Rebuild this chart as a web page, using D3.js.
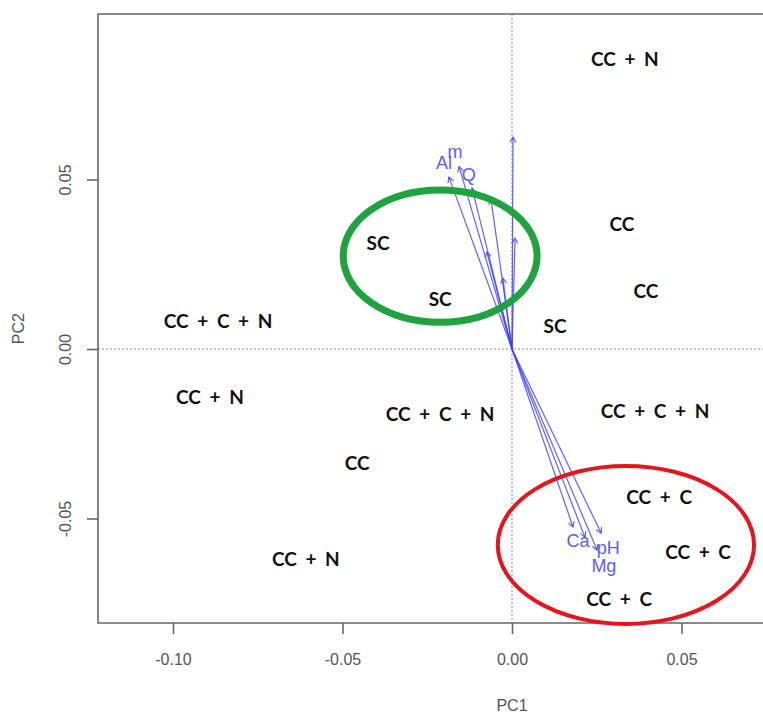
<!DOCTYPE html>
<html>
<head>
<meta charset="utf-8">
<script src="https://cdn.jsdelivr.net/npm/d3@7"></script>
<style>
  html, body { margin: 0; padding: 0; background: #fff; }
  svg { display: block; }
</style>
</head>
<body>
<svg id="chart" width="763" height="716"></svg>
<script>
// Treatment scores on the first two principal components
const sampleLabels = ["CC + N", "CC", "CC", "SC", "SC", "SC", "CC + C + N", "CC + N",
  "CC + C + N", "CC + C + N", "CC", "CC + C", "CC + C", "CC + N", "CC + C"];
const samplePC1 = [0.0333, 0.0324, 0.0395, -0.0395, -0.0212, 0.0127, -0.0867, -0.0891,
  -0.0212, 0.0422, -0.0457, 0.0434, 0.0549, -0.0608, 0.0316];
const samplePC2 = [0.0858, 0.0369, 0.0174, 0.0313, 0.0150, 0.0068, 0.0083, -0.0139,
  -0.0189, -0.0180, -0.0336, -0.0434, -0.0596, -0.0619, -0.0735];

// Soil variable loadings (arrow tips); some labels are blank
const varLabels = ["Al", "m", "Q", "", "", "", "", "", "Ca", "", "pH", "Mg"];
const varPC1 = [-0.0186, -0.0156, -0.0118, -0.0062, -0.0074, 0.0009, -0.0027, 0.0003,
  0.0180, 0.0215, 0.0263, 0.0251];
const varPC2 = [0.0507, 0.0538, 0.0475, 0.0442, 0.0286, 0.0327, 0.0209, 0.0625,
  -0.0525, -0.0555, -0.0543, -0.0593];

// Group outlines: centre and radii in PC units
const groupColors = ["#1fa33f", "#e8141b"];
const groupCX = [-0.0212, 0.0336];
const groupCY = [0.0274, -0.0578];
const groupRX = [0.0286, 0.0378];
const groupRY = [0.0195, 0.0233];
const groupWidths = [7, 4];

const xTicks = [-0.10, -0.05, 0.00, 0.05];
const yTicks = [-0.05, 0.00, 0.05];

const svg = d3.select("#chart");
const W = 763, H = 716;
const plotLeft = 98, plotTop = 14, plotBottom = 623;
const unit = 3390; // pixels per PC unit
const x0 = 512, y0 = 349;

const x = d3.scaleLinear()
  .domain([(plotLeft - x0) / unit, (W + 40 - x0) / unit])
  .range([plotLeft, W + 40]);
const y = d3.scaleLinear()
  .domain([(y0 - plotBottom) / unit, (y0 - plotTop) / unit])
  .range([plotBottom, plotTop]);

const axisColor = "#666";
const tickTextColor = "#555";
const fmt = d => d.toFixed(2); // plain hyphen for negatives

// zero reference lines
svg.append("line")
  .attr("x1", x(0)).attr("x2", x(0))
  .attr("y1", plotTop).attr("y2", plotBottom)
  .attr("stroke", "#888").attr("stroke-width", 1)
  .attr("stroke-dasharray", "2,2");
svg.append("line")
  .attr("x1", plotLeft).attr("x2", W)
  .attr("y1", y(0)).attr("y2", y(0))
  .attr("stroke", "#888").attr("stroke-width", 1)
  .attr("stroke-dasharray", "2,2");

// frame
svg.append("path")
  .attr("d", `M${W},${plotTop}H${plotLeft}V${plotBottom}H${W}`)
  .attr("fill", "none").attr("stroke", axisColor).attr("stroke-width", 1.6);

// x axis
const xAxis = d3.axisBottom(x).tickValues(xTicks)
  .tickFormat(fmt).tickSize(11).tickPadding(20);
const gx = svg.append("g").attr("transform", `translate(0,${plotBottom})`).call(xAxis);
gx.select(".domain").remove();
gx.selectAll(".tick line").attr("stroke", axisColor).attr("stroke-width", 1.6);
gx.selectAll(".tick text")
  .attr("fill", tickTextColor)
  .style("font-family", "'Liberation Sans', Arial, sans-serif")
  .style("font-size", "16px");

// y axis with rotated labels
const yAxis = d3.axisLeft(y).tickValues(yTicks)
  .tickFormat(fmt).tickSize(11).tickPadding(0);
const gy = svg.append("g").attr("transform", `translate(${plotLeft},0)`).call(yAxis);
gy.select(".domain").remove();
gy.selectAll(".tick line").attr("stroke", axisColor).attr("stroke-width", 1.6);
gy.selectAll(".tick text")
  .attr("fill", tickTextColor)
  .attr("x", null).attr("dy", null)
  .attr("text-anchor", "middle")
  .attr("transform", "translate(-27,0) rotate(-90)")
  .style("font-family", "'Liberation Sans', Arial, sans-serif")
  .style("font-size", "16px");

// axis titles
svg.append("text")
  .attr("x", x(0)).attr("y", 711)
  .attr("text-anchor", "middle")
  .attr("fill", tickTextColor)
  .style("font-family", "'Liberation Sans', Arial, sans-serif")
  .style("font-size", "16px")
  .text("PC1");
svg.append("text")
  .attr("transform", `translate(24,${y(0.006)}) rotate(-90)`)
  .attr("text-anchor", "middle")
  .attr("fill", tickTextColor)
  .style("font-family", "'Liberation Sans', Arial, sans-serif")
  .style("font-size", "16px")
  .text("PC2");

// loading arrows
const arrowColor = "#3c3cff";
const vars = varLabels.map((l, i) => ({ label: l, px: varPC1[i], py: varPC2[i] }));
const ga = svg.append("g");
vars.forEach(v => {
  const xs = x(0), ys = y(0), xe = x(v.px), ye = y(v.py);
  ga.append("line")
    .attr("x1", xs).attr("y1", ys).attr("x2", xe).attr("y2", ye)
    .attr("stroke", arrowColor).attr("stroke-width", 1.2).attr("opacity", 0.8);
  const ang = Math.atan2(ye - ys, xe - xs);
  const hl = 6, ha = Math.PI / 6;
  const p1 = [xe - hl * Math.cos(ang - ha), ye - hl * Math.sin(ang - ha)];
  const p2 = [xe - hl * Math.cos(ang + ha), ye - hl * Math.sin(ang + ha)];
  ga.append("path")
    .attr("d", `M${p1[0]},${p1[1]}L${xe},${ye}L${p2[0]},${p2[1]}`)
    .attr("fill", "none").attr("stroke", arrowColor)
    .attr("stroke-width", 1.2).attr("opacity", 0.8);
  if (v.label) {
    ga.append("text")
      .attr("x", x(v.px * 1.08)).attr("y", y(v.py * 1.08))
      .attr("text-anchor", "middle").attr("dominant-baseline", "central")
      .attr("fill", "#4b4bff").attr("opacity", 0.9)
      .style("font-family", "'Liberation Sans', Arial, sans-serif")
      .style("font-size", "18px")
      .text(v.label);
  }
});

// group outlines
groupColors.forEach((c, i) => {
  svg.append("ellipse")
    .attr("cx", x(groupCX[i])).attr("cy", y(groupCY[i]))
    .attr("rx", x(groupCX[i] + groupRX[i]) - x(groupCX[i]))
    .attr("ry", y(groupCY[i]) - y(groupCY[i] + groupRY[i]))
    .attr("fill", "none").attr("stroke", c).attr("stroke-width", groupWidths[i]);
});

// treatment labels
svg.append("g").selectAll("text")
  .data(sampleLabels.map((l, i) => ({ l, px: samplePC1[i], py: samplePC2[i] })))
  .join("text")
  .attr("x", d => x(d.px)).attr("y", d => y(d.py))
  .attr("text-anchor", "middle").attr("dominant-baseline", "central")
  .attr("fill", "#111")
  .style("font-family", "Lato, 'Open Sans', sans-serif")
  .style("font-weight", "700")
  .style("font-size", "19px")
  .style("word-spacing", "4px")
  .text(d => d.l);
</script>
</body>
</html>
